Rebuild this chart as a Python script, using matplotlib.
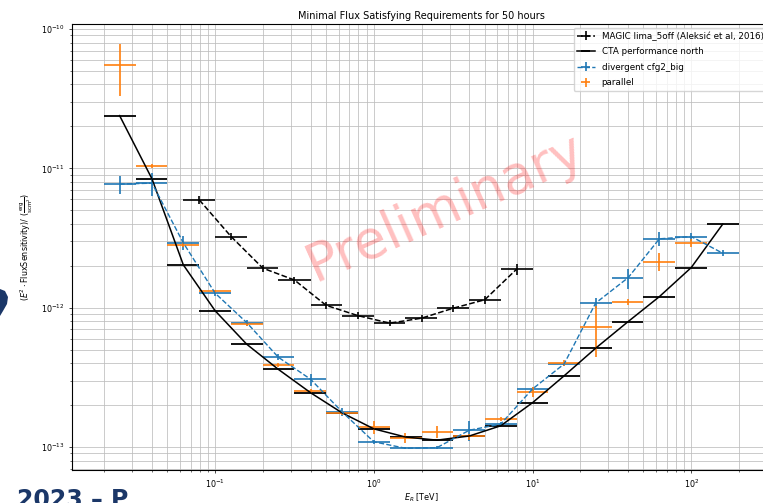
import numpy as np
import matplotlib.pyplot as plt
from matplotlib.patches import Polygon
from matplotlib.transforms import IdentityTransform

# energy bins (TeV), 5 per decade
cta_e = [0.025, 0.040, 0.063, 0.10, 0.158, 0.25, 0.40, 0.63, 1.0, 1.58,
         2.5, 4.0, 6.3, 10.0, 15.8, 25.0, 40.0, 63.0, 100.0, 158.0]
cta_lo = [0.020, 0.0316, 0.050, 0.0794, 0.126, 0.20, 0.316, 0.50, 0.794, 1.26,
          2.0, 3.16, 5.0, 7.94, 12.6, 20.0, 31.6, 50.0, 79.4, 126.0]
cta_hi = [0.0316, 0.050, 0.0794, 0.126, 0.20, 0.316, 0.50, 0.794, 1.26, 2.0,
          3.16, 5.0, 7.94, 12.6, 20.0, 31.6, 50.0, 79.4, 126.0, 200.0]

cta_flux = [2.39e-11, 8.4e-12, 2.03e-12, 9.5e-13, 5.47e-13, 3.61e-13, 2.45e-13,
            1.76e-13, 1.35e-13, 1.18e-13, 1.12e-13, 1.20e-13, 1.42e-13, 2.08e-13,
            3.24e-13, 5.12e-13, 7.94e-13, 1.20e-12, 1.94e-12, 3.98e-12]

magic_e = [0.0794, 0.126, 0.20, 0.316, 0.50, 0.794, 1.26, 2.0, 3.16, 5.0, 7.94]
magic_lo = [0.063, 0.10, 0.158, 0.25, 0.40, 0.63, 1.0, 1.58, 2.5, 4.0, 6.3]
magic_hi = [0.10, 0.158, 0.25, 0.40, 0.63, 1.0, 1.58, 2.5, 4.0, 6.3, 10.0]
magic_flux = [5.94e-12, 3.24e-12, 1.92e-12, 1.58e-12, 1.04e-12, 8.77e-13,
              7.74e-13, 8.41e-13, 9.91e-13, 1.14e-12, 1.89e-12]
magic_err = [3.5e-13, 2.0e-13, 1.2e-13, 9e-14, 6e-14, 5e-14,
             4e-14, 5e-14, 6e-14, 8e-14, 1.6e-13]

div_flux = [7.71e-12, 7.83e-12, 2.92e-12, 1.27e-12, 7.82e-13, 4.41e-13, 3.06e-13,
            1.79e-13, 1.09e-13, 9.8e-14, 9.9e-14, 1.32e-13, 1.46e-13, 2.61e-13,
            3.94e-13, 1.08e-12, 1.64e-12, 3.12e-12, 3.24e-12, 2.46e-12]
div_err = [1.15e-12, 1.45e-12, 3.4e-13, 6e-14, 4e-14, 2.2e-14, 3e-14,
           1.2e-14, 4e-15, 2e-15, 2e-15, 2.2e-14, 4e-15, 8e-15,
           1e-14, 9e-14, 2.7e-13, 3.7e-13, 2.2e-13, 1.2e-13]

par_flux = [5.55e-11, 1.04e-11, 2.84e-12, 1.31e-12, 7.66e-13, 3.88e-13, 2.54e-13,
            1.75e-13, 1.39e-13, 1.16e-13, 1.29e-13, 1.19e-13, 1.59e-13, 2.48e-13,
            4.01e-13, 7.3e-13, 1.10e-12, 2.14e-12, 2.90e-12]
par_err = [2.25e-11, 3.5e-13, 1e-13, 4e-14, 2.5e-14, 1.2e-14, 8e-15,
           6e-15, 1.4e-14, 1e-14, 1.3e-14, 6e-15, 5e-15, 2e-14,
           2e-14, 2.9e-13, 5e-14, 3.2e-13, 1.9e-13]

cta_xerr = [np.subtract(cta_e, cta_lo), np.subtract(cta_hi, cta_e)]
magic_xerr = [np.subtract(magic_e, magic_lo), np.subtract(magic_hi, magic_e)]
n_par = len(par_flux)
par_xerr = [cta_xerr[0][:n_par], cta_xerr[1][:n_par]]

plt.rcParams["font.size"] = 5.8

fig = plt.figure(figsize=(7.63, 5.03), dpi=100)
ax = fig.add_axes([0.0948, 0.0656, 0.9151, 0.8861])

ax.errorbar(magic_e, magic_flux, xerr=magic_xerr, yerr=magic_err, fmt="--",
            color="black", lw=1.1, elinewidth=1.2,
            label="MAGIC lima_5off (Aleksić et al, 2016)")
ax.errorbar(cta_e, cta_flux, xerr=cta_xerr, fmt="-", color="black",
            lw=1.1, elinewidth=1.3, label="CTA performance north")
ax.errorbar(cta_e, div_flux, xerr=cta_xerr, yerr=div_err, fmt="--",
            color="tab:blue", lw=1.0, elinewidth=1.2, label="divergent cfg2_big")
ax.errorbar(cta_e[:n_par], par_flux, xerr=par_xerr, yerr=par_err, fmt="none",
            ecolor="tab:orange", elinewidth=1.2, label="parallel")

ax.set_xscale("log")
ax.set_yscale("log")
ax.set_xlim(10 ** -1.9, 10 ** 2.5)
ax.set_ylim(10 ** -13.165, 10 ** -9.966)
ax.grid(True, which="both", color="#bdbdbd", lw=0.55)
ax.tick_params(which="major", length=2.2, width=0.5)
ax.tick_params(which="minor", length=1.3, width=0.4)

ax.set_title("Minimal Flux Satisfying Requirements for 50 hours", fontsize=7, pad=4)
ax.set_xlabel(r"$E_R$ [TeV]", labelpad=1)
ax.set_ylabel(r"$(E^2 \cdot \mathrm{FluxSensitivity})/\ (\frac{\mathrm{erg}}{\mathrm{s cm^2}})$",
              labelpad=4)
ax.legend(loc="upper right", fontsize=6.3, labelspacing=0.75,
          borderaxespad=0.4)

# watermark
ax.text(0.534, 0.588, "Preliminary", transform=ax.transAxes, fontsize=38,
        rotation=24, color="red", alpha=0.25, ha="center", va="center")

# bits of the slide behind the figure
fig.text(17 / 763, -4 / 503, "2023 – P", fontsize=17, fontweight="bold",
         color="#1b3768")
fig.patches.append(Polygon([(0, 214), (5, 212), (8, 206), (7, 199), (3, 192), (0, 187)],
                           closed=True, transform=IdentityTransform(),
                           facecolor="#1b3768", edgecolor="none"))

fig.savefig("out.png", dpi=100)
